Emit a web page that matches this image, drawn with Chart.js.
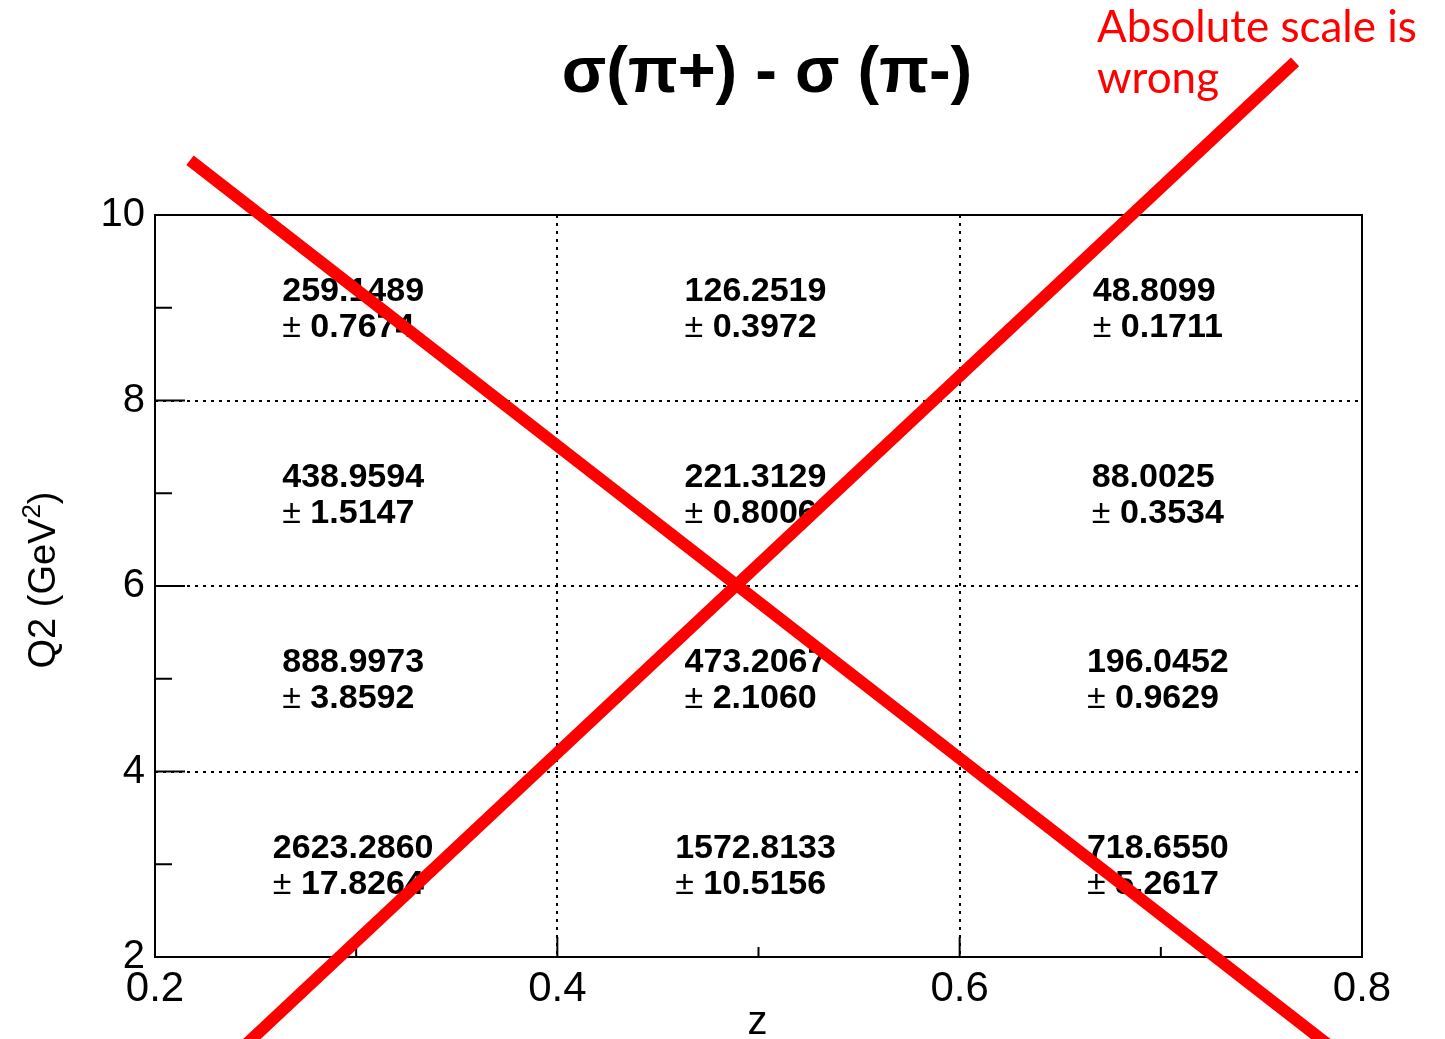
<!DOCTYPE html>
<html lang="en">
<head>
<meta charset="UTF-8">
<title>sigma(pi+) - sigma(pi-)</title>
<script src="https://cdn.jsdelivr.net/npm/chart.js"></script>
<style>
  body { margin: 0; background: #fff; }
</style>
</head>
<body>
<canvas id="myChart" width="1445" height="1039"></canvas>
<script>
// bin edges
const zEdges = [0.2, 0.4, 0.6, 0.8];
const q2Edges = [2, 4, 6, 8, 10];
const zMinor = [0.3, 0.5, 0.7];
const q2Minor = [3, 5, 7, 9];

// rows: Q2 bins low -> high, columns: z bins
const xsecVals = [
  [2623.2860, 1572.8133, 718.6550],
  [888.9973, 473.2067, 196.0452],
  [438.9594, 221.3129, 88.0025],
  [259.1489, 126.2519, 48.8099]
];
const xsecErrs = [
  [17.8264, 10.5156, 5.2617],
  [3.8592, 2.1060, 0.9629],
  [1.5147, 0.8006, 0.3534],
  [0.7674, 0.3972, 0.1711]
];

// red cross drawn over the plot (z, Q2)
const crossA = [{x: 0.2174, y: 10.59}, {x: 0.7866, y: 0.997}];
const crossB = [{x: 0.2423, y: 0.997}, {x: 0.7667, y: 11.65}];

const FONT = '"Liberation Sans", Arial, sans-serif';

const isInner = (v, edges) => v > edges[0] + 1e-9 && v < edges[edges.length - 1] - 1e-9;

const cellText = {
  id: 'cellText',
  beforeDatasetsDraw(chart) {
    const {ctx, chartArea: a, scales: {x, y}} = chart;
    ctx.save();
    // frame
    ctx.strokeStyle = '#000';
    ctx.lineWidth = 2;
    ctx.strokeRect(a.left, a.top, a.right - a.left, a.bottom - a.top);

    // inward tick marks
    ctx.beginPath();
    zMinor.forEach(v => { const px = x.getPixelForValue(v); ctx.moveTo(px, a.bottom); ctx.lineTo(px, a.bottom - 10); });
    zEdges.filter(v => isInner(v, zEdges)).forEach(v => { const px = x.getPixelForValue(v); ctx.moveTo(px, a.bottom); ctx.lineTo(px, a.bottom - 20); });
    q2Minor.forEach(v => { const py = y.getPixelForValue(v); ctx.moveTo(a.left, py); ctx.lineTo(a.left + 17, py); });
    q2Edges.filter(v => isInner(v, q2Edges)).forEach(v => { const py = y.getPixelForValue(v); ctx.moveTo(a.left, py); ctx.lineTo(a.left + 30, py); });
    ctx.stroke();

    // values in each bin
    ctx.fillStyle = '#000';
    ctx.textBaseline = 'middle';
    ctx.textAlign = 'left';
    const bold = 'bold 34px ' + FONT;
    const reg = '34px ' + FONT;
    for (let r = 0; r < xsecVals.length; r++) {
      for (let c = 0; c < xsecVals[r].length; c++) {
        const cx = (x.getPixelForValue(zEdges[c]) + x.getPixelForValue(zEdges[c + 1])) / 2 - 3;
        const cy = (y.getPixelForValue(q2Edges[r]) + y.getPixelForValue(q2Edges[r + 1])) / 2;
        const l1 = xsecVals[r][c].toFixed(4);
        const l2 = ' ' + xsecErrs[r][c].toFixed(4);
        ctx.font = bold;
        const w1 = ctx.measureText(l1).width;
        const w2 = ctx.measureText(l2).width;
        ctx.font = reg;
        const wpm = ctx.measureText('±').width;
        const left = cx - Math.max(w1, wpm + w2) / 2;
        ctx.font = bold;
        ctx.fillText(l1, left, cy - 16);
        ctx.font = reg;
        ctx.fillText('±', left, cy + 20);
        ctx.font = bold;
        ctx.fillText(l2, left + wpm, cy + 20);
      }
    }
    ctx.restore();
  },
  afterDraw(chart) {
    const {ctx, chartArea: a} = chart;
    ctx.save();
    // title
    ctx.fillStyle = '#000';
    ctx.textAlign = 'center';
    ctx.textBaseline = 'alphabetic';
    ctx.font = 'bold 65px ' + FONT;
    ctx.fillText('σ(π+) - σ (π-)', 767, 92);

    // x axis title
    ctx.font = '40px ' + FONT;
    ctx.fillText('z', (a.left + a.right) / 2 - 1, 1034);

    // y axis title, rotated
    ctx.translate(45, 580);
    ctx.rotate(-Math.PI / 2);
    ctx.textBaseline = 'middle';
    ctx.textAlign = 'left';
    const p1 = 'Q2 (GeV', p3 = ')';
    ctx.font = '38px ' + FONT;
    const w1 = ctx.measureText(p1).width, w3 = ctx.measureText(p3).width;
    ctx.font = '26px ' + FONT;
    const w2 = ctx.measureText('2').width;
    let px = -(w1 + w2 + w3) / 2;
    ctx.font = '38px ' + FONT;
    ctx.fillText(p1, px, 0);
    ctx.font = '26px ' + FONT;
    ctx.fillText('2', px + w1, -12);
    ctx.font = '38px ' + FONT;
    ctx.fillText(p3, px + w1 + w2, 0);
    ctx.restore();

    // red note
    ctx.save();
    ctx.fillStyle = '#ff0000';
    ctx.textAlign = 'left';
    ctx.font = '44px Lato, "Open Sans", sans-serif';
    ctx.fillText('Absolute scale is', 1097, 42);
    ctx.fillText('wrong', 1097, 93);
    ctx.restore();
  }
};

const gridColor = edges => c => isInner(c.tick.value, edges) ? '#000' : 'rgba(0,0,0,0)';

new Chart(document.getElementById('myChart'), {
  type: 'scatter',
  data: {
    datasets: [
      {data: crossA, showLine: true, borderColor: '#ff0000', borderWidth: 12, pointRadius: 0, clip: false},
      {data: crossB, showLine: true, borderColor: '#ff0000', borderWidth: 12, pointRadius: 0, clip: false}
    ]
  },
  options: {
    responsive: false,
    animation: false,
    devicePixelRatio: 1,
    layout: {padding: {top: 215, right: 83, left: 0, bottom: 0}},
    plugins: {legend: {display: false}, tooltip: {enabled: false}},
    scales: {
      x: {
        type: 'linear', min: 0.2, max: 0.8,
        afterBuildTicks: s => { s.ticks = zEdges.map(v => ({value: v})); },
        afterFit: s => { s.height = 82; },
        grid: {color: gridColor(zEdges), lineWidth: 2, drawTicks: false},
        border: {display: false, dash: [3, 5]},
        ticks: {
          padding: 7, color: '#000', maxRotation: 0, autoSkip: false,
          font: {family: FONT, size: 42},
          callback: v => String(v)
        }
      },
      y: {
        type: 'linear', min: 2, max: 10,
        afterBuildTicks: s => { s.ticks = q2Edges.map(v => ({value: v})); },
        afterFit: s => { s.width = 155; },
        grid: {color: gridColor(q2Edges), lineWidth: 2, drawTicks: false},
        border: {display: false, dash: [3, 5]},
        ticks: {
          padding: 10, color: '#000', autoSkip: false,
          font: {family: FONT, size: 40},
          callback: v => String(v)
        }
      }
    }
  },
  plugins: [cellText]
});
</script>
</body>
</html>
